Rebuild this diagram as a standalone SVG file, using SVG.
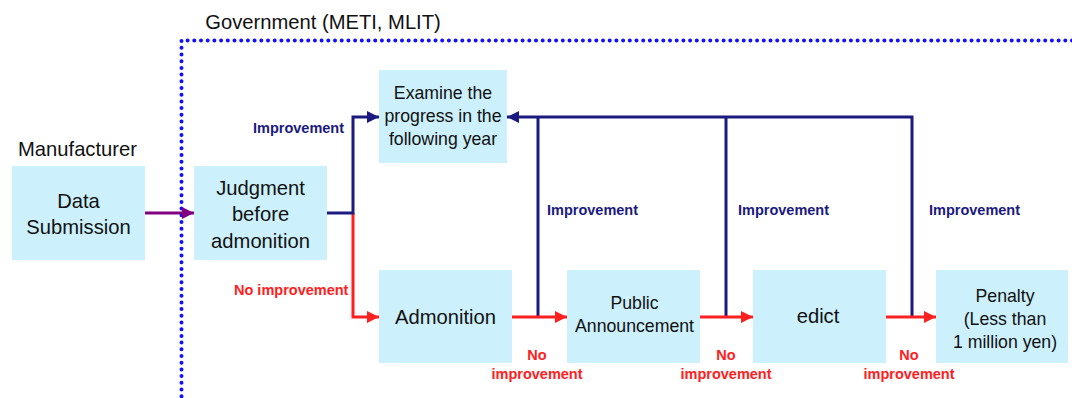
<svg xmlns="http://www.w3.org/2000/svg" width="1072" height="398" viewBox="0 0 1072 398">
<defs>
<style>
.box{fill:#CCF0FC;}
.t{font-family:"Liberation Sans",Arial,sans-serif;fill:#111;text-anchor:middle;}
.t20{font-size:20.2px;}
.t17{font-size:17.7px;}
.lbl{font-family:"Liberation Sans",Arial,sans-serif;font-weight:bold;font-size:14.5px;}
.navyT{fill:#1A1A80;}
.redT{fill:#FF2020;}
.navy{fill:none;stroke:#1A1A80;stroke-width:3;}
.red{fill:none;stroke:#FF2020;stroke-width:3;}
.purple{fill:none;stroke:#800080;stroke-width:3;}
.dot{fill:none;stroke:#1010FF;stroke-width:4;stroke-linecap:round;stroke-dasharray:0 6.7;}
</style>
<marker id="aN" viewBox="0 0 10 10" refX="10" refY="5" markerWidth="4" markerHeight="4" markerUnits="strokeWidth" orient="auto"><path d="M0,0 L10,5 L0,10 z" fill="#1A1A80"/></marker>
<marker id="aR" viewBox="0 0 10 10" refX="10" refY="5" markerWidth="4" markerHeight="4" markerUnits="strokeWidth" orient="auto"><path d="M0,0 L10,5 L0,10 z" fill="#FF2020"/></marker>
<marker id="aP" viewBox="0 0 10 10" refX="10" refY="5" markerWidth="4" markerHeight="4" markerUnits="strokeWidth" orient="auto"><path d="M0,0 L10,5 L0,10 z" fill="#800080"/></marker>
</defs>
<rect width="1072" height="398" fill="#fff"/>

<g id="government">
<path class="dot" d="M1072,40.5 L181.5,40.5 L181.5,398"/>
<text class="t t20" x="323" y="29">Government (METI, MLIT)</text>
</g>

<g id="manufacturer">
<text class="t t20" x="77.5" y="156">Manufacturer</text>
</g>

<g id="connectors">
<path class="purple" d="M145,213 L194,213" marker-end="url(#aP)"/>
<path class="red" d="M353,213 L353,317 L379,317" marker-end="url(#aR)"/>
<path class="navy" d="M327,213 L353,213 L353,117 L379,117" marker-end="url(#aN)"/>
<path class="navy" d="M538,317 L538,117"/>
<path class="navy" d="M726,317 L726,117"/>
<path class="navy" d="M912,317 L912,117 L507,117" marker-end="url(#aN)"/>
<path class="red" d="M512,317 L567,317" marker-end="url(#aR)"/>
<path class="red" d="M700,317 L753,317" marker-end="url(#aR)"/>
<path class="red" d="M886,317 L936,317" marker-end="url(#aR)"/>
<text class="lbl navyT" x="253" y="133">Improvement</text>
<text class="lbl navyT" x="547" y="215">Improvement</text>
<text class="lbl navyT" x="738" y="215">Improvement</text>
<text class="lbl navyT" x="929" y="215">Improvement</text>
<text class="lbl redT" x="234" y="295">No improvement</text>
<text class="lbl redT" x="537" y="360" text-anchor="middle">No</text>
<text class="lbl redT" x="537" y="379" text-anchor="middle">improvement</text>
<text class="lbl redT" x="726" y="360" text-anchor="middle">No</text>
<text class="lbl redT" x="726" y="379" text-anchor="middle">improvement</text>
<text class="lbl redT" x="909" y="360" text-anchor="middle">No</text>
<text class="lbl redT" x="909" y="379" text-anchor="middle">improvement</text>
</g>

<g id="data-submission">
<rect class="box" x="12" y="166" width="133" height="94"/>
<text class="t t20" x="78.5" y="208">Data</text>
<text class="t t20" x="78.5" y="234">Submission</text>
</g>

<g id="judgment">
<rect class="box" x="194" y="166" width="133" height="94"/>
<text class="t t20" x="260.5" y="195">Judgment</text>
<text class="t t20" x="260.5" y="221">before</text>
<text class="t t20" x="260.5" y="248">admonition</text>
</g>

<g id="examine">
<rect class="box" x="379" y="70" width="128" height="93"/>
<text class="t t17" x="443" y="99">Examine the</text>
<text class="t t17" x="443" y="122">progress in the</text>
<text class="t t17" x="443" y="145">following year</text>
</g>

<g id="admonition">
<rect class="box" x="379" y="270" width="133" height="93"/>
<text class="t t20" x="445.5" y="324">Admonition</text>
</g>

<g id="public-announcement">
<rect class="box" x="567" y="270" width="133" height="93"/>
<text class="t t17" x="634.5" y="309">Public</text>
<text class="t t17" x="634.5" y="332">Announcement</text>
</g>

<g id="edict">
<rect class="box" x="753" y="270" width="133" height="93"/>
<text class="t t20" x="818" y="323">edict</text>
</g>

<g id="penalty">
<rect class="box" x="936" y="270" width="132" height="93"/>
<text class="t t17" x="1005" y="302">Penalty</text>
<text class="t t17" x="1005" y="325">(Less than</text>
<text class="t t17" x="1005" y="348">1 million yen)</text>
</g>
</svg>
